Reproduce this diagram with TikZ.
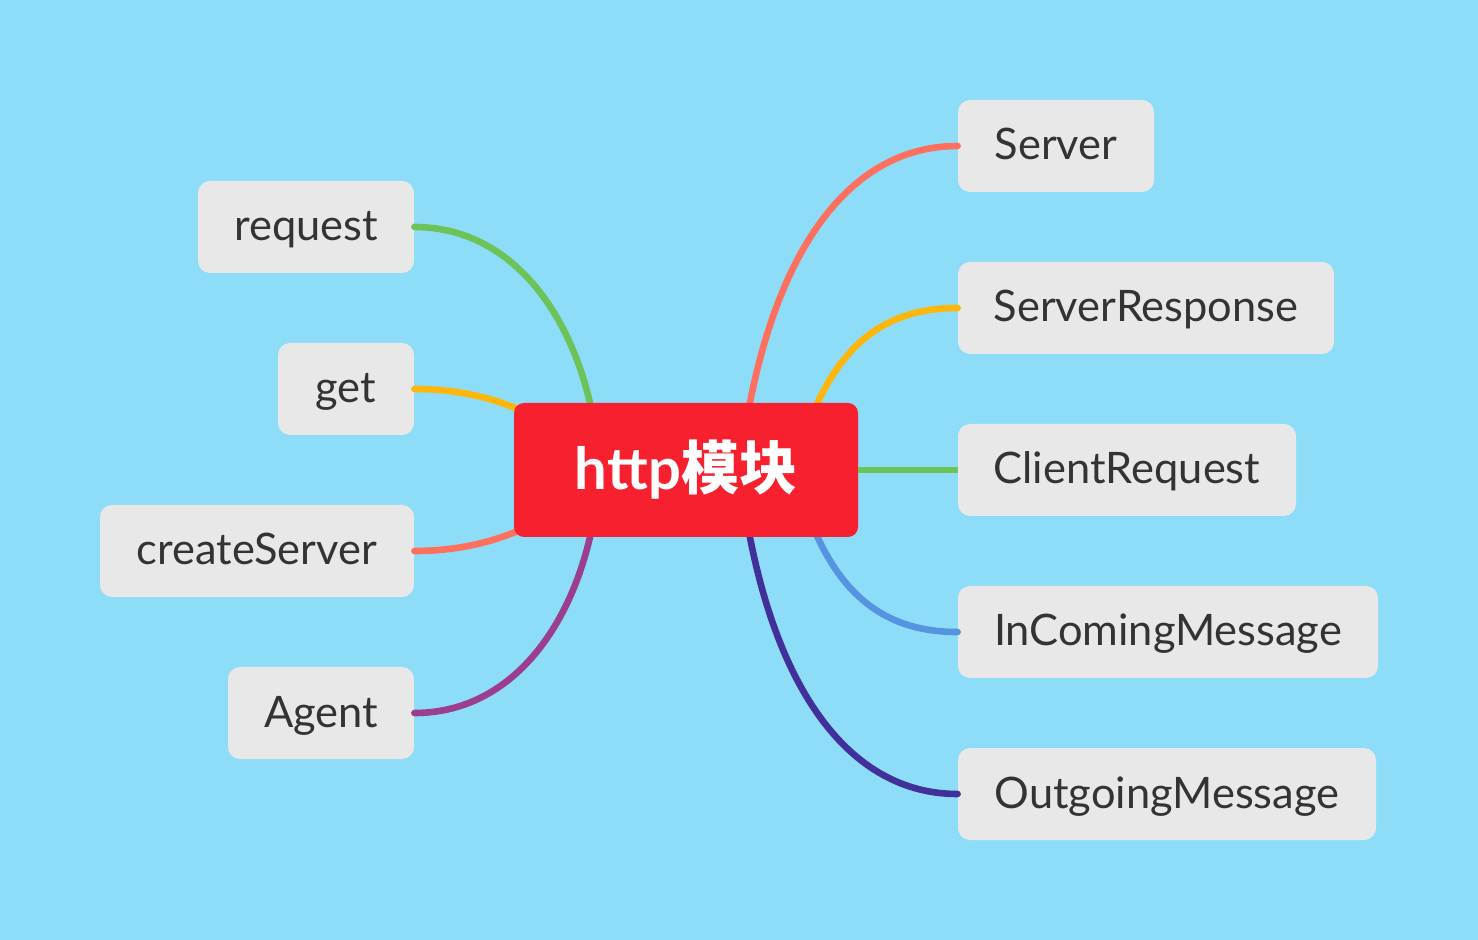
\documentclass[tikz,border=0pt]{standalone}
\usepackage{fontspec}
\setmainfont{Lato}
\newfontfamily\cjk{Noto Sans CJK SC}
\definecolor{bgc}{HTML}{8EDDF8}
\definecolor{boxc}{HTML}{E8E8E8}
\definecolor{txtc}{HTML}{333333}
\definecolor{redc}{HTML}{F7202F}
\definecolor{greenc}{HTML}{6CC358}
\definecolor{yellowc}{HTML}{FFB60A}
\definecolor{salmonc}{HTML}{FF6F5E}
\definecolor{purplec}{HTML}{9B3E8D}
\definecolor{bluec}{HTML}{5594E0}
\definecolor{darkpc}{HTML}{41309A}
\tikzset{
  leaf/.style={fill=boxc, rounded corners=6pt, minimum height=46pt, inner sep=0pt,
    text height=16pt, text depth=2pt,
    text=txtc, font=\fontsize{21.7}{26}\selectfont},
  root/.style={fill=redc, rounded corners=5pt, minimum width=172pt, minimum height=67pt,
    inner sep=0pt, text=white, font=\fontsize{29}{34}\selectfont\bfseries},
  branch/.style={line width=3.3pt, line cap=round}
}
\begin{document}
\begin{tikzpicture}[x=0.5pt,y=-0.5pt]
\fill[bgc] (0,0) rectangle (1478,940);
\useasboundingbox (0,0) rectangle (1478,940);
% leaves
\node[leaf, minimum width=108pt] (request) at (306,227) {request};
\node[leaf, minimum width=68pt] (get) at (346,389) {get};
\node[leaf, minimum width=157pt] (createServer) at (257,551) {createServer};
\node[leaf, minimum width=93pt] (agent) at (321,713) {Agent};
\node[leaf, minimum width=98pt] (server) at (1056,146) {Server};
\node[leaf, minimum width=188pt] (serverresponse) at (1146,308) {ServerResponse};
\node[leaf, minimum width=169pt] (clientrequest) at (1127,470) {ClientRequest};
\node[leaf, minimum width=210pt] (incoming) at (1168,632) {InComingMessage};
\node[leaf, minimum width=209pt] (outgoing) at (1167,794) {OutgoingMessage};
% hidden origins behind root
\coordinate (l1) at (598,450);
\coordinate (l2) at (600,465);
\coordinate (l3) at (600,475);
\coordinate (l4) at (598,490);
\coordinate (r1) at (742,450);
\coordinate (r2) at (800,450);
\coordinate (r4) at (800,490);
\coordinate (r5) at (742,490);
% branches
\draw[branch, greenc] (request.east) .. controls (520,227) and (585,330) .. (l1);
\draw[branch, yellowc] (get.east) .. controls (480,389) and (545,410) .. (l2);
\draw[branch, salmonc] (createServer.east) .. controls (480,551) and (545,530) .. (l3);
\draw[branch, purplec] (agent.east) .. controls (520,713) and (585,610) .. (l4);
\draw[branch, salmonc] (r1) .. controls (770,250) and (850,146) .. (server.west);
\draw[branch, yellowc] (r2) .. controls (830,350) and (880,308) .. (serverresponse.west);
\draw[branch, bluec] (r4) .. controls (830,590) and (880,632) .. (incoming.west);
\draw[branch, darkpc] (r5) .. controls (770,690) and (850,794) .. (outgoing.west);
% root
\node[root] (root) at (686,470) {http{\cjk\bfseries 模块}};
\draw[branch, greenc, line cap=butt] (root.east) -- (clientrequest.west);
\end{tikzpicture}
\end{document}
